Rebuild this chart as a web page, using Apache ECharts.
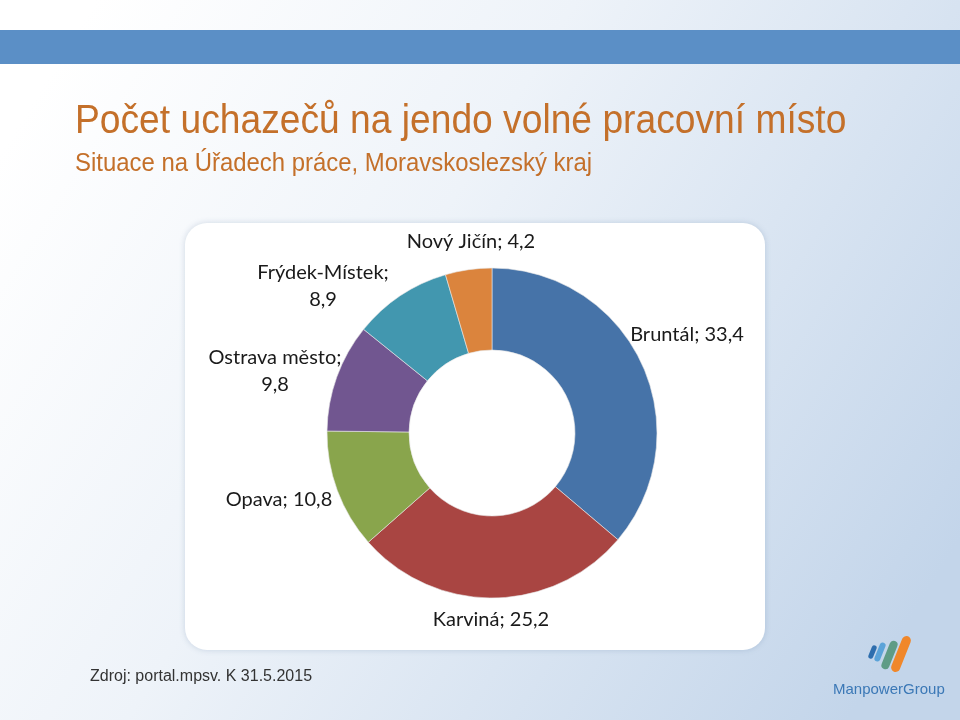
<!DOCTYPE html>
<html><head><meta charset="utf-8">
<script src="https://cdn.jsdelivr.net/npm/echarts@6/dist/echarts.min.js"></script>
<style>html,body{margin:0;padding:0;}#c{width:960px;height:720px;}</style>
</head><body><div id="c"></div>
<script>
const categories = ['Bruntál', 'Karviná', 'Opava', 'Ostrava město', 'Frýdek-Místek', 'Nový Jičín'];
const values = [33.4, 25.2, 10.8, 9.8, 8.9, 4.2];
const colors = ['#4673a8', '#a94542', '#89a54c', '#715690', '#4297af', '#db843d'];
const titleText = 'Počet uchazečů na jendo volné pracovní místo';
const subtitleText = 'Situace na Úřadech práce, Moravskoslezský kraj';
const sourceText = 'Zdroj: portal.mpsv. K 31.5.2015';
const wrapped = ['Ostrava město', 'Frýdek-Místek'];
// label anchor (centre) positions, layout only
const labelAnchors = [[687, 335], [491, 620], [279, 500], [275, 371], [323, 286], [471, 242]];

const chart = echarts.init(document.getElementById('c'));
const fmt = v => String(v).replace('.', ',');
chart.setOption({
  animation: false,
  graphic: [
    { type: 'rect', z: -10, shape: { x: 0, y: 0, width: 960, height: 720 },
      style: { fill: new echarts.graphic.LinearGradient(0.1, 0, 1, 0.75, [
        { offset: 0, color: '#ffffff' }, { offset: 0.4, color: '#eef3f9' }, { offset: 1, color: '#c3d5ea' }]) } },
    { type: 'rect', z: -9, shape: { x: 0, y: 30, width: 960, height: 34 }, style: { fill: '#5b8fc6' } },
    { type: 'rect', z: -8, shape: { x: 185, y: 223, width: 580, height: 427, r: 22 },
      style: { fill: '#ffffff', shadowBlur: 6, shadowColor: 'rgba(80,110,150,0.25)' } },
    { type: 'text', x: 75, y: 102, scaleX: 0.93, style: { text: titleText, font: '40px "Liberation Sans", Arial, sans-serif', fill: '#c4702a', verticalAlign: 'top' } },
    { type: 'text', x: 75, y: 151, scaleX: 0.92, style: { text: subtitleText, font: '26px "Liberation Sans", Arial, sans-serif', fill: '#c4702a', verticalAlign: 'top' } },
    { type: 'text', left: 90, top: 669, style: { text: sourceText, font: '16px "Liberation Sans", Arial, sans-serif', fill: '#333333' } },
    { type: 'text', left: 833, top: 682, style: { text: 'ManpowerGroup', font: '15px "Liberation Sans", Arial, sans-serif', fill: '#3b78b6' } },
    { type: 'rect', x: 872.5, y: 652, rotation: -0.38, shape: { x: -2.5, y: -7, width: 5, height: 14, r: 2.5 }, style: { fill: '#2e6eae' } },
    { type: 'rect', x: 880, y: 652, rotation: -0.38, shape: { x: -3, y: -10, width: 6, height: 20, r: 3 }, style: { fill: '#5ba3d9' } },
    { type: 'rect', x: 889.5, y: 655, rotation: -0.38, shape: { x: -4, y: -15, width: 8, height: 30, r: 4 }, style: { fill: '#5f9c86' } },
    { type: 'rect', x: 901, y: 654, rotation: -0.38, shape: { x: -4.5, y: -19, width: 9, height: 38, r: 4.5 }, style: { fill: '#f0872a' } }
  ],
  series: [{
    type: 'pie',
    center: [492, 433],
    radius: [83, 165],
    startAngle: 90,
    clockwise: true,
    color: colors,
    itemStyle: { borderColor: '#e8e8e8', borderWidth: 0.6 },
    label: {
      show: true, position: 'outside', color: '#1a1a1a', align: 'center',
      fontFamily: 'Lato, "Open Sans", sans-serif', fontSize: 20, lineHeight: 27,
      formatter: p => wrapped.includes(p.name) ? p.name + ';\n' + fmt(p.value) : p.name + '; ' + fmt(p.value)
    },
    labelLine: { show: false, length: 4, length2: 0 },
    labelLayout: p => ({ x: labelAnchors[p.dataIndex][0], y: labelAnchors[p.dataIndex][1], align: 'center', verticalAlign: 'middle' }),
    data: categories.map((c, i) => ({ name: c, value: values[i] }))
  }]
});
</script></body></html>
